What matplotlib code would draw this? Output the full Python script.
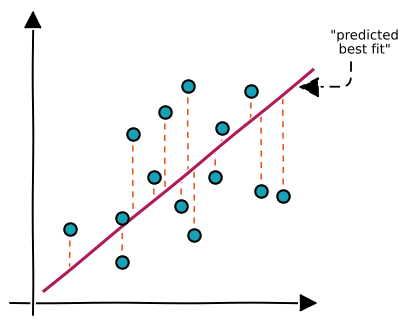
import matplotlib
matplotlib.use("Agg")
import matplotlib.pyplot as plt
import numpy as np

# data (arbitrary units, origin at the axes crossing)
x_vals = [3.7, 8.9, 8.9, 10.0, 12.1, 13.2, 15.5, 14.8, 16.1, 18.2, 18.9, 21.8, 22.8, 25.0]
y_vals = [7.4, 4.1, 8.5, 16.9, 12.6, 19.1, 21.7, 9.7, 6.8, 12.6, 17.5, 21.2, 11.2, 10.7]
fit_slope = 0.8216
fit_intercept = 0.30
fit_x_range = [1.1, 28.0]
annotation_text = '"predicted\nbest fit"'

POINT_COLOR = "#17a2b8"
LINE_COLOR = "#b01a5a"
RESID_COLOR = "#e8501a"

plt.xkcd(scale=0.3, length=150, randomness=2)
plt.rcParams['font.family'] = ['DejaVu Sans']

fig = plt.figure(figsize=(4.05, 3.27), dpi=100)
ax = fig.add_axes([0, 0, 1, 1])
ax.set_xlim(-3.3, 37.2)
ax.set_ylim(-2.4, 30.3)
ax.axis('off')

xs = np.array(x_vals)
ys = np.array(y_vals)
fit = lambda v: fit_slope * np.asarray(v) + fit_intercept

# axes with arrowheads
ax.annotate('', xy=(28.5, 0), xytext=(-2.3, 0),
            arrowprops=dict(arrowstyle='-|>,head_length=1,head_width=0.5',
                            mutation_scale=11, lw=1.4, color='black',
                            shrinkA=0, shrinkB=0))
ax.annotate('', xy=(0, 29.3), xytext=(0, -1.2),
            arrowprops=dict(arrowstyle='-|>,head_length=1,head_width=0.5',
                            mutation_scale=11, lw=1.4, color='black',
                            shrinkA=0, shrinkB=0))

# residuals
ax.vlines(xs, ys, fit(xs), colors=RESID_COLOR, linestyles=(0, (4, 3.5)),
          lw=1.1, zorder=2)

# best fit line
ax.plot(fit_x_range, fit(fit_x_range), color=LINE_COLOR, lw=2.2, zorder=3)

# points
ax.scatter(xs, ys, s=80, color=POINT_COLOR, edgecolor='black', lw=1.5, zorder=4)

# annotation
ax.annotate(annotation_text, xy=(26.5, 21.6), xytext=(33.2, 26.0),
            ha='center', va='center', fontsize=9.5, linespacing=1.1,
            arrowprops=dict(arrowstyle='-|>,head_length=1,head_width=0.5',
                            mutation_scale=13, color='black', lw=1.3,
                            linestyle=(0, (5, 4)), relpos=(0.3, 0),
                            connectionstyle='angle,angleA=90,angleB=0,rad=10',
                            shrinkA=2, shrinkB=0))

fig.savefig('out.png', dpi=100)
